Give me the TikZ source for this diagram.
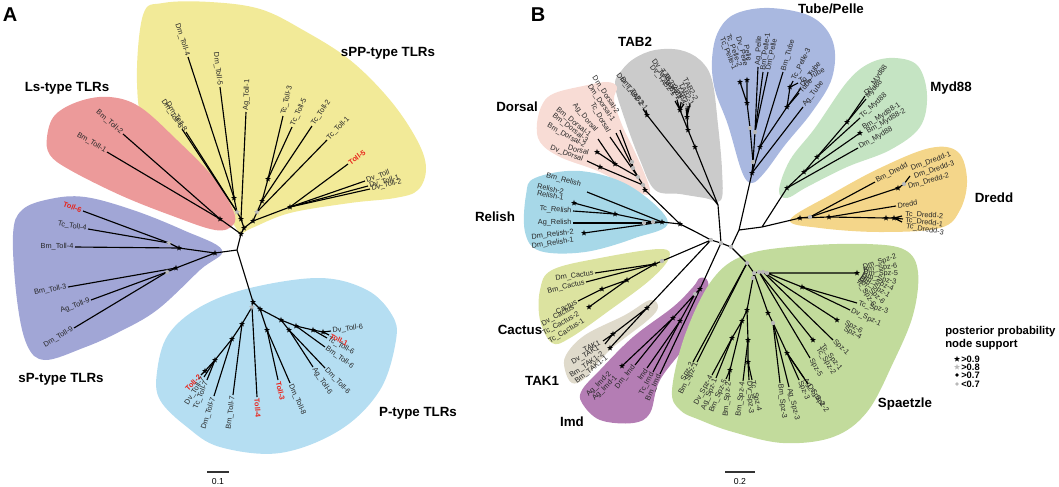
\documentclass[tikz,border=0pt]{standalone}
\usepackage{fontspec}
\setmainfont{Liberation Sans}
\usetikzlibrary{shapes.geometric}
\definecolor{cY}{HTML}{F2EA98}
\definecolor{cR}{HTML}{EC9A9A}
\definecolor{cSP}{HTML}{A1A6D6}
\definecolor{cP}{HTML}{B5DEF2}
\definecolor{cDo}{HTML}{F8DCD5}
\definecolor{cTa}{HTML}{CBCBCB}
\definecolor{cTu}{HTML}{A9B8E0}
\definecolor{cMy}{HTML}{C5E4C3}
\definecolor{cDr}{HTML}{F4D68A}
\definecolor{cRe}{HTML}{A7D8E8}
\definecolor{cCa}{HTML}{DCE3A0}
\definecolor{cTk}{HTML}{DFDACB}
\definecolor{cIm}{HTML}{B47DB4}
\definecolor{cSz}{HTML}{C2DB9C}
\definecolor{tred}{HTML}{E8231A}
\tikzset{
  br/.style={line width=0.85pt,draw=black},
  lbl/.style={font=\fontsize{5.5}{6}\selectfont,inner sep=0.8pt,text=black!85},
  rl/.style={text=tred,font=\bfseries\fontsize{5.5}{6}\selectfont},
  hdr/.style={font=\bfseries\fontsize{10}{12}\selectfont,inner sep=0pt},
  st/.style={star,star points=5,star point ratio=2.4,fill=black,draw=none,inner sep=0pt,minimum size=4.6pt},
  gst/.style={st,fill=gray!55},
  gd/.style={circle,fill=gray!55,draw=none,inner sep=0pt,minimum size=3.2pt},
  bd/.style={circle,fill=black,draw=none,inner sep=0pt,minimum size=3.2pt},
}
\newcount\nlb
\newcommand\lf[4][]{%
  \global\advance\nlb by 1\relax
  \coordinate (lfe) at #3;%
  \pgfmathanglebetweenpoints{\pgfpointanchor{#2}{center}}{\pgfpointanchor{lfe}{center}}%
  \let\lfang\pgfmathresult
  \pgfmathparse{cos(\lfang)}%
  \ifdim\pgfmathresult pt<0pt
    \pgfmathsetmacro\lfrot{\lfang-180}\def\lfanc{east}%
  \else
    \let\lfrot\lfang\def\lfanc{west}%
  \fi
  \draw[br] (#2) -- (lfe) node[lbl,#1,anchor=\lfanc,rotate=\lfrot] (lb\the\nlb) {\detokenize{#4}};%
}
\newcommand\lb[5][]{\global\advance\nlb by 1\relax
  \node[lbl,#1,anchor=#4,rotate=#3] (lb\the\nlb) at #2 {\detokenize{#5}};}
\begin{document}
\begin{tikzpicture}[x=0.75pt,y=-0.75pt]
\useasboundingbox (0,0) rectangle (1059,486);
%================ PANEL A blobs
\fill[cY] plot[smooth cycle,tension=0.6] coordinates {(143,15) (163,3) (210,2) (260,9) (303,30) (350,60) (390,100) (417,140) (426,168) (418,190) (395,198) (350,203) (290,213) (252,228) (240,233) (230,220) (187,173) (147,133) (137,83)};
\fill[cR] plot[smooth cycle,tension=0.6] coordinates {(47,137) (55,115) (80,101) (110,97) (140,107) (177,140) (213,177) (233,210) (233,225) (215,230) (170,215) (120,195) (70,170) (50,155)};
\fill[cSP] plot[smooth cycle,tension=0.6] coordinates {(13,235) (22,210) (50,199) (85,197) (133,210) (183,230) (222,250) (200,270) (157,310) (117,333) (83,348) (45,360) (27,345) (17,300)};
\fill[cP] plot[smooth cycle,tension=0.6] coordinates {(157,372) (168,335) (200,307) (250,288) (320,278) (367,290) (392,315) (396,340) (380,390) (340,430) (280,453) (220,447) (187,427) (160,400)};
%================ PANEL A tree
\coordinate (J1) at (237,250); \coordinate (J2) at (241,234);
\coordinate (P0) at (215,253); \coordinate (Pa) at (179,248); \coordinate (Pa1) at (169,243);
\coordinate (Pb) at (176,268); \coordinate (Pb1) at (167,272);
\coordinate (L0) at (220,219);
\coordinate (S0) at (244,228); \coordinate (S1) at (241,219); \coordinate (S2) at (237,212);
\coordinate (S3) at (234,198); \coordinate (S4) at (253,221); \coordinate (S5) at (257,212);
\coordinate (S6) at (290,207); \coordinate (S7) at (262,201); \coordinate (S8) at (268,179);
\coordinate (Q0) at (253,302); \coordinate (Qg) at (252,307); \coordinate (Q1) at (242,324);
\coordinate (Q2) at (232,339); \coordinate (Q3) at (215,360); \coordinate (Q4) at (205,371);
\coordinate (R0) at (260,309); \coordinate (R1) at (267,330); \coordinate (R2) at (281,320);
\coordinate (R3) at (296,326); \coordinate (R4) at (313,330); \coordinate (R5) at (323,332);
\coordinate (R6) at (289,330);
\draw[br] (J1)--(J2) (J1)--(P0) (J1)--(Q0) (J2)--(L0) (J2)--(S0) (P0)--(Pa) (Pa)--(Pa1)
  (P0)--(Pb) (Pb)--(Pb1) (S0)--(S1) (S1)--(S2) (S2)--(S3) (S0)--(S4) (S4)--(S5) (S5)--(S7)
  (S7)--(S8) (S4)--(S6) (Q0)--(Qg) (Qg)--(Q1) (Q1)--(Q2) (Q2)--(Q3) (Q3)--(Q4) (Q0)--(R0)
  (R0)--(R1) (R0)--(R2) (R2)--(R3) (R3)--(R4) (R4)--(R5) (R2)--(R6);
\lf[rl]{Pa1}{(83,211)}{Toll-6}
\lf{Pa1}{(88,229)}{Tc_Toll-4}
\lf{Pa}{(75,247)}{Bm_Toll-4}
\lf{Pb}{(68,287)}{Bm_Toll-3}
\lf{Pb1}{(91,300)}{Ag_Toll-9}
\lf{Pb1}{(74,328)}{Dm_Toll-9}
\lf{L0}{(123,134)}{Bm_Toll-2}
\lf{L0}{(107,152)}{Bm_Toll-1}
\lf{S3}{(188,57)}{Dm_Toll-4}
\lf{S3}{(220,87)}{Dm_Toll-5}
\lf{S2}{(182,129)}{Dm_Toll-6}
\lf{S2}{(186,132)}{Dm_Toll-8}
\lf{S1}{(246,112)}{Ag_Toll-1}
\lf{S8}{(283,116)}{Tc_Toll-3}
\lf{S8}{(292,127)}{Tc_Toll-5}
\lf{S7}{(312,126)}{Tc_Toll-2}
\lf{S5}{(327,140)}{Tc_Toll-1}
\lf[rl]{S6}{(348,164)}{Toll-5}
\lf{S6}{(365,181)}{Dv_Toll}
\lf{S6}{(368,186)}{Dv_Toll-1}
\lf{S6}{(370,189)}{Dv_Toll-2}
\lf[rl]{Q4}{(201,375)}{Toll-2}
\lf{Q3}{(204,377)}{Dv_Toll-7}
\lf{Q3}{(207,380)}{Tc_Toll-7}
\lf{Q2}{(214,396)}{Dm_Toll-7}
\lf{Q1}{(233,395)}{Bm_Toll-7}
\lf[rl]{Qg}{(257,397)}{Toll-4}
\lf[rl]{R1}{(278,380)}{Toll-3}
\lf{R1}{(290,383)}{Dm_Toll-8}
\lf{R6}{(313,367)}{Ag_Toll-6}
\lf{R6}{(325,368)}{Dm_Toll-6}
\lf{R3}{(325,347)}{Bm_Toll-6}
\lf{R4}{(327,338)}{Tc_Toll-6}
\lf[rl]{R5}{(329,335)}{Toll-1}
\lf{R5}{(331,331)}{Dv_Toll-6}
\foreach \c in {P0,Pa,Pb,L0,J2,S0,S1,S3,S4,S6,S7,S8,Q0,Q1,Q2,Q3,Q4,R0,R1,R2,R3,R4,R5,R6} {\node[st] (m-\c) at (\c) {};}
\foreach \c in {Pa1,Pb1,S2,S5,Qg} {\node[gst] (m-\c) at (\c) {};}
\node[hdr] (hA1) at (388,53) {sPP-type TLRs};
\node[hdr] (hA2) at (67,88) {Ls-type TLRs};
\node[hdr] (hA3) at (61,379) {sP-type TLRs};
\node[hdr] (hA4) at (418,413) {P-type TLRs};
\node[font=\bfseries\fontsize{15}{16}\selectfont,inner sep=0pt] (pA) at (10,15) {A};
\coordinate (sa1) at (207,472); \coordinate (sa2) at (229,472);
\draw[line width=0.8pt,black!80] (sa1) -- (sa2);
\node[font=\fontsize{6.5}{7}\selectfont,inner sep=0pt] (sat) at (218,482) {0.1};
%================ PANEL B blobs
\fill[cTa] plot[smooth cycle,tension=0.6] coordinates {(615,85) (622,70) (635,58) (655,50) (680,50) (700,60) (712,80) (718,125) (722,170) (721,200) (705,198) (680,194) (655,190) (640,160) (625,120)};
\fill[cDo] plot[smooth cycle,tension=0.6] coordinates {(537,123) (543,103) (555,93) (583,86) (607,82) (617,87) (614,100) (622,125) (633,148) (645,175) (650,192) (640,193) (600,172) (560,157) (540,142)};
\fill[cTu] plot[smooth cycle,tension=0.6] coordinates {(712,60) (718,32) (735,14) (770,8) (812,17) (833,42) (832,78) (812,112) (785,145) (765,172) (752,183) (742,172) (728,125) (715,90)};
\fill[cMy] plot[smooth cycle,tension=0.6] coordinates {(779,190) (790,160) (815,128) (847,82) (870,63) (895,58) (918,66) (927,95) (920,127) (890,150) (847,167) (807,187) (787,198)};
\fill[cDr] plot[smooth cycle,tension=0.6] coordinates {(790,220) (830,195) (880,168) (930,148) (958,152) (967,180) (960,210) (940,228) (880,232) (820,228)};
\fill[cRe] plot[smooth cycle,tension=0.6] coordinates {(526,195) (535,178) (580,171) (630,186) (668,222) (635,238) (585,252) (540,251) (525,232)};
\fill[cCa] plot[smooth cycle,tension=0.6] coordinates {(540,290) (552,270) (600,258) (660,249) (669,258) (650,280) (610,310) (570,338) (552,343) (540,320)};
\fill[cTk] plot[smooth cycle,tension=0.6] coordinates {(566,355) (585,335) (625,315) (650,300) (658,307) (648,320) (610,350) (585,378) (572,383) (565,370)};
\fill[cIm] plot[smooth cycle,tension=0.6] coordinates {(700,278) (708,282) (707,307) (690,340) (660,380) (650,413) (633,423) (600,420) (582,403) (582,390) (600,370) (633,337) (673,307) (693,287)};
\fill[cSz] plot[smooth cycle,tension=0.6] coordinates {(672,390) (685,335) (712,280) (745,255) (800,246) (867,244) (905,250) (918,272) (913,315) (893,363) (867,412) (833,437) (783,443) (733,432) (700,420) (680,410)};
%================ PANEL B tree
\coordinate (C1) at (711,240); \coordinate (C2) at (721,243); \coordinate (C3) at (731,247);
\coordinate (U1) at (739,230); \coordinate (V1) at (762,227); \coordinate (C0) at (694,231);
% Relish / Dorsal
\coordinate (RD) at (680,224); \coordinate (Rn) at (662,222); \coordinate (Rg1) at (653,222);
\coordinate (Rg2) at (644,223); \coordinate (Rn2) at (615,214); \coordinate (Rs1) at (574,203);
\coordinate (Rs2) at (584,233);
\coordinate (Dn) at (645,190); \coordinate (Dg1) at (643,185); \coordinate (Dg2) at (638,177);
\coordinate (Dg3) at (633,168); \coordinate (Dg4) at (632,162); \coordinate (Dd1) at (615,164);
\coordinate (Dbs) at (597,152); \coordinate (Dd2) at (600,167);
% TAB2
\coordinate (Tr) at (718,205); \coordinate (Tm) at (647,115); \coordinate (Ta) at (695,147);
\coordinate (Tb) at (688,130); \coordinate (Tc) at (687,117); \coordinate (Td) at (680,110);
% Tube/Pelle
\coordinate (Pr0) at (752,173); \coordinate (Pg1) at (753,162); \coordinate (Pg2) at (750,128);
\coordinate (Pg3) at (755,132); \coordinate (Ps1) at (747,103); \coordinate (Ps2) at (740,82);
\coordinate (Ps3) at (747,80); \coordinate (Pt) at (760,147); \coordinate (Pt2) at (787,107);
\coordinate (Pt3) at (790,87);
% Myd88
\coordinate (M0) at (787,188); \coordinate (M1) at (804,172); \coordinate (M2) at (817,157);
\coordinate (M3) at (847,122); \coordinate (Mb) at (860,133);
% Dredd
\coordinate (Dr0) at (800,218); \coordinate (Drg) at (810,217); \coordinate (Dr1) at (829,217);
\coordinate (Dr2) at (886,218); \coordinate (Dr3) at (894,218); \coordinate (Dms) at (898,188);
\coordinate (Dmg) at (904,184);
% Cactus, TAK1, Imd
\coordinate (Cg) at (662,261); \coordinate (Cs1) at (655,264); \coordinate (Cs2) at (627,280);
\coordinate (Cs3) at (602,289); \coordinate (Cs4) at (589,307);
\coordinate (Ks1) at (647,308); \coordinate (Ks2) at (613,334); \coordinate (Ks3) at (610,348);
\coordinate (Im0) at (700,289); \coordinate (Img) at (695,294); \coordinate (Im1) at (673,318);
\coordinate (Im2) at (680,321); \coordinate (Im3) at (622,366);
% Spaetzle
\coordinate (Sg0) at (747,263); \coordinate (Sg1) at (754,273); \coordinate (Sg2) at (759,272);
\coordinate (Sg3) at (763,272); \coordinate (Sg4) at (767,273); \coordinate (Sg5) at (753,278);
\coordinate (Sd) at (857,273); \coordinate (Sx) at (802,287); \coordinate (Sp6) at (837,320);
\coordinate (Stc) at (813,340); \coordinate (Sm1) at (768,313); \coordinate (Sm1g) at (773,323);
\coordinate (Sm2) at (787,353); \coordinate (Sl1) at (747,310); \coordinate (Sl2) at (742,321);
\coordinate (Sl3) at (732,338); \coordinate (Sl4) at (730,370); \coordinate (Sr1) at (748,340);
\coordinate (Sr2) at (748,362);
\draw[br] (C1)--(C2) (C2)--(C3) (C3)--(U1) (U1)--(V1) (C1)--(C0) (C0)--(RD) (RD)--(Rn) (Rn)--(Rg1)
  (Rg1)--(Rg2) (Rg1)--(Rn2) (Rn2)--(Rs1) (Rn)--(Rs2) (RD)--(Dn) (Dn)--(Dg1) (Dg1)--(Dg2)
  (Dg2)--(Dg3) (Dg3)--(Dg4) (Dg2)--(Dd1) (Dd1)--(Dbs) (Dg1)--(Dd2)
  (C2)--(Tr) (Tr)--(Tm) (Tr)--(Ta) (Ta)--(Tb) (Tb)--(Tc) (Tb)--(Td)
  (U1)--(Pr0) (Pr0)--(Pg1) (Pg1)--(Pg2) (Pg2)--(Ps1) (Ps1)--(Ps2) (Ps1)--(Ps3) (Pg1)--(Pg3)
  (Pr0)--(Pt) (Pt)--(Pt2) (Pt2)--(Pt3)
  (V1)--(M0) (M0)--(M1) (M1)--(M2) (M2)--(M3) (M1)--(Mb)
  (V1)--(Dr0) (Dr0)--(Drg) (Drg)--(Dms) (Dms)--(Dmg) (Dr0)--(Dr1) (Dr1)--(Dr2) (Dr2)--(Dr3)
  (C1)--(Cg) (Cg)--(Cs1) (Cs1)--(Cs2) (Cs2)--(Cs3) (Cs2)--(Cs4)
  (C1)--(Ks1) (Ks1)--(Ks2) (Ks1)--(Ks3)
  (C2)--(Im0) (Im0)--(Img) (Img)--(Im1) (Im1)--(Im3) (Img)--(Im2)
  (C3)--(Sg0) (Sg0)--(Sg1) (Sg1)--(Sg2) (Sg2)--(Sg3) (Sg3)--(Sg4) (Sg1)--(Sg5) (Sg4)--(Sd)
  (Sg4)--(Sx) (Sg3)--(Sp6) (Sg2)--(Stc) (Sg1)--(Sm1) (Sm1)--(Sm1g) (Sm1g)--(Sm2)
  (Sg5)--(Sl1) (Sl1)--(Sl2) (Sl2)--(Sl3) (Sl2)--(Sl4) (Sl1)--(Sr1) (Sr1)--(Sr2);
% Relish leaves
\draw[br] (Rn)--(587,192);
\lb{(582,185)}{-15}{east}{Bm_Relish}
\lb{(565,192)}{-12}{east}{Relish-2}
\lb{(565,198)}{-10}{east}{Relish-1}
\lf{Rn2}{(573,211)}{Tc_Relish}
\lf{Rg2}{(573,223)}{Ag_Relish}
\lb{(575,232)}{7}{east}{Dm_Relish-2}
\lb{(575,240)}{9}{east}{Dm_Relish-1}
% Dorsal leaves
\draw[br] (Dg4)--(620,130) (Dg3)--(616,133) (Dg2)--(610,137) (Dd1)--(598,139) (Dd2)--(587,161);
\lb{(618,114)}{-57}{east}{Dm_Dorsal-2}
\lb{(614,122)}{-56}{east}{Dm_Dorsal-1}
\lb{(609,133)}{-60}{east}{Tc_Dorsal}
\lb{(597,132)}{-50}{east}{Ag_Dorsal}
\lb{(591,137)}{-40}{east}{Bm_Dorsal-1}
\lb{(588,142)}{-38}{east}{Bm_Dorsal-3}
\lb{(586,147)}{-30}{east}{Bm_Dorsal-2}
\lb{(590,153)}{-15}{east}{Dorsal}
\lb{(584,160)}{-20}{east}{Dv_Dorsal}
% TAB2 leaves
\draw[br] (Tc)--(690,104) (Tc)--(688,106) (Tc)--(686,108) (Td)--(677,100) (Td)--(675,101) (Td)--(681,102) (Td)--(684,104) (Tm)--(643,109) (Tm)--(646,110);
\lb{(697,101)}{-62}{east}{TAB2-2}
\lb{(693,106)}{-62}{east}{TAB2-1}
\lb{(690,110)}{-62}{east}{TAB2-3}
\lb{(677,91)}{-52}{east}{Dv_TAB2-2}
\lb{(675,97)}{-52}{east}{Dv_TAB2-1}
\lb{(680,101)}{-55}{east}{Tc_TAB2-2}
\lb{(685,106)}{-57}{east}{Tc_TAB2-1}
\lb{(643,107)}{-52}{east}{Dm_TAB2-2}
\lb{(647,111)}{-52}{east}{Dm_TAB2-1}
% Tube/Pelle leaves
\lb{(740,68)}{-70}{east}{Tc_Pelle-2}
\lb{(735,71)}{-68}{east}{Tc_Pelle-1}
\lb{(746,67)}{-75}{east}{Dv_Pelle}
\lb{(750,62)}{-78}{east}{Pelle}
\lf{Pg3}{(758,67)}{Ag_Pelle}
\lf{Pg3}{(763,72)}{Bm_Pelle-1}
\lf{Pg3}{(768,72)}{Dm_Pelle}
\lf{Pt}{(783,72)}{Bm_Tube}
\lf{Pt3}{(793,81)}{Tc_Pelle-3}
\lf{Pt3}{(798,83)}{Tc_Tube}
\lf{Pt2}{(801,88)}{Dv_Tube}
\lf{Pt2}{(799,93)}{Tube}
\lf{Pr0}{(803,107)}{Ag_Tube}
% Myd88 leaves
\lf{M3}{(865,96)}{Dv_Myd88}
\lf{M3}{(866,99)}{Myd88}
\lf{M2}{(860,118)}{Tc_Myd88}
\lb{(862,129)}{33}{west}{Bm_Myd88-1}
\lb{(866,133)}{30}{west}{Bm_Myd88-2}
\lf{M0}{(858,148)}{Dm_Myd88}
% Dredd leaves
\lf{Drg}{(875,182)}{Bm_Dredd}
\draw[br] (Dmg)--(910,176);
\lb{(910,169)}{20}{west}{Dm_Dredd-1}
\lb{(913,177)}{18}{west}{Dm_Dredd-3}
\lb{(907,187)}{15}{west}{Dm_Dredd-2}
\lf{Dr1}{(896,206)}{Dredd}
\draw[br] (Dr3)--(902,216) (Dr3)--(903,219) (Dr3)--(902,222);
\lb{(904,214)}{-4}{west}{Tc_Dredd-2}
\lb{(904,220)}{-7}{west}{Tc_Dredd-1}
\lb{(905,226)}{-10}{west}{Tc_Dredd-3}
% Cactus leaves
\lf{Cs1}{(595,273)}{Dm_Cactus}
\lf{Cs1}{(586,282)}{Bm_Cactus}
\lf{Cs3}{(578,301)}{Cactus}
\lb{(575,307)}{28}{east}{Dv_Cactus}
\lb{(580,313)}{30}{east}{Tc_Cactus-2}
\lb{(585,320)}{32}{east}{Tc_Cactus-1}
% TAK1 leaves
\draw[br] (Ks2)--(603,341) (Ks2)--(605,344);
\lb{(601,342)}{25}{east}{TAK1}
\lb{(600,347)}{30}{east}{Dv_TAK1}
\lb{(604,353)}{35}{east}{Bm_TAK1-2}
\lb{(608,357)}{38}{east}{Bm_TAK1-1}
% Imd leaves
\lf{Im1}{(635,365)}{Dm_Imd}
\lf{Im2}{(647,368)}{Imd}
\lf{Im2}{(653,372)}{Tc_Imd}
\lf{Im0}{(660,374)}{Bm_Imd}
\lb{(611,372)}{45}{east}{Ag_Imd-2}
\lb{(617,376)}{45}{east}{Ag_Imd-1}
% Spaetzle leaves
\lf{Sg0}{(693,362)}{Spz-2}
\lf{Sg0}{(697,362)}{Bm_Spz-1}
\lf{Sl3}{(712,375)}{Dv_Spz-4}
\lf{Sl3}{(716,378)}{Ag_Spz-1}
\lf{Sl4}{(726,379)}{Bm_Spz-5}
\lf{Sl4}{(729,381)}{Bm_Spz-2}
\lf{Sr1}{(743,381)}{Bm_Spz-4}
\lf{Sr2}{(749,380)}{Dv_Spz-3}
\lf{Sr2}{(752,380)}{Tc_Spz-4}
\lf{Sm1g}{(780,383)}{Bm_Spz-3}
\lf{Sm1g}{(789,387)}{Ag_Spz-3}
\lf{Sm2}{(799,380)}{Spz-3}
\lf{Sm2}{(804,378)}{Ag_Spz-2}
\lf{Sm2}{(808,384)}{Dv_Spz-2}
\lf{Sg2}{(810,358)}{Spz-5}
\lb{(817,347)}{-58}{west}{Tc_Spz-2}
\lb{(821,344)}{-52}{west}{Tc_Spz-1}
\lf{Sg3}{(833,340)}{Spz-1}
\lb{(844,322)}{-30}{west}{Spz-6}
\lb{(843,328)}{-30}{west}{Spz-4}
\lf{Sx}{(857,303)}{Tc_Spz-3}
\lf{Sx}{(850,310)}{Dv_Spz-1}
\lb{(862,268)}{18}{west}{Dm_Spz-2}
\lb{(862,271)}{8}{west}{Bm_Spz-6}
\lb{(862,273)}{-2}{west}{Dm_Spz-5}
\lb{(861,275)}{-12}{west}{Dm_Spz-3}
\lb{(860,276)}{-22}{west}{Dm_Spz-4}
\lb{(859,277)}{-33}{west}{Dm_Spz-1}
\lb{(858,278)}{-45}{west}{Dm_Spz-6}
\lb{(857,279)}{-58}{west}{Tc_Spz-6}
% markers
\foreach \c in {RD,Rn,Rn2,Rs1,Rs2,Dn,Dd1,Dbs,Dd2,Tm,Ta,Tb,Tc,Td,Pr0,Ps1,Ps2,Ps3,Pt,Pt2,Pt3,M0,M1,M2,M3,Mb,Dr0,Dr1,Dr2,Dr3,Dms,Cs1,Cs2,Cs3,Cs4,Ks1,Ks2,Ks3,Im0,Im1,Im2,Im3,Sd,Sx,Sp6,Stc,Sm1,Sm2,Sl1,Sl2,Sl3,Sl4,Sr1,Sr2} {\node[st] (m-\c) at (\c) {};}
\foreach \c in {C1,C2,C3,Rg1,Rg2,Dg1,Dg2,Dg3,Dg4,Pg1,Pg2,Pg3,Drg,Dmg,Cg,Img,Sg0,Sg1,Sg2,Sg3,Sg4,Sg5,Sm1g} {\node[gd] (m-\c) at (\c) {};}
% headers B
\node[font=\bfseries\fontsize{15}{16}\selectfont,inner sep=0pt] (pB) at (538,15) {B};
\node[hdr] (hB1) at (635,42) {TAB2};
\node[hdr] (hB2) at (831,9) {Tube/Pelle};
\node[hdr] (hB3) at (951,88) {Myd88};
\node[hdr] (hB4) at (994,198) {Dredd};
\node[hdr] (hB5) at (517,107) {Dorsal};
\node[hdr] (hB6) at (495,217) {Relish};
\node[hdr] (hB7) at (520,330) {Cactus};
\node[hdr] (hB8) at (542,381) {TAK1};
\node[hdr] (hB9) at (572,422) {Imd};
\node[hdr] (hB10) at (905,404) {Spaetzle};
% legend
\node[font=\bfseries\fontsize{8.5}{10}\selectfont,inner sep=0pt,anchor=west] (lg1) at (945,332) {posterior probability};
\node[font=\bfseries\fontsize{8.5}{10}\selectfont,inner sep=0pt,anchor=west] (lg2) at (945,345) {node support};
\node[st] (lgs1) at (957,359) {};
\node[gst] (lgs2) at (957,367) {};
\node[bd,minimum size=2.8pt] (lgs3) at (957,375) {};
\node[gd,minimum size=2.8pt] (lgs4) at (957,384) {};
\node[font=\bfseries\fontsize{7}{8}\selectfont,inner sep=0pt,anchor=west] (lgt1) at (961,359) {>0.9};
\node[font=\bfseries\fontsize{7}{8}\selectfont,inner sep=0pt,anchor=west] (lgt2) at (961,367) {>0.8};
\node[font=\bfseries\fontsize{7}{8}\selectfont,inner sep=0pt,anchor=west] (lgt3) at (961,375) {>0.7};
\node[font=\bfseries\fontsize{7}{8}\selectfont,inner sep=0pt,anchor=west] (lgt4) at (961,384) {<0.7};
% scale B
\coordinate (sb1) at (725,472); \coordinate (sb2) at (755,472);
\draw[line width=0.8pt,black!80] (sb1) -- (sb2);
\node[font=\fontsize{6.5}{7}\selectfont,inner sep=0pt] (sbt) at (740,482) {0.2};
\end{tikzpicture}
\end{document}
